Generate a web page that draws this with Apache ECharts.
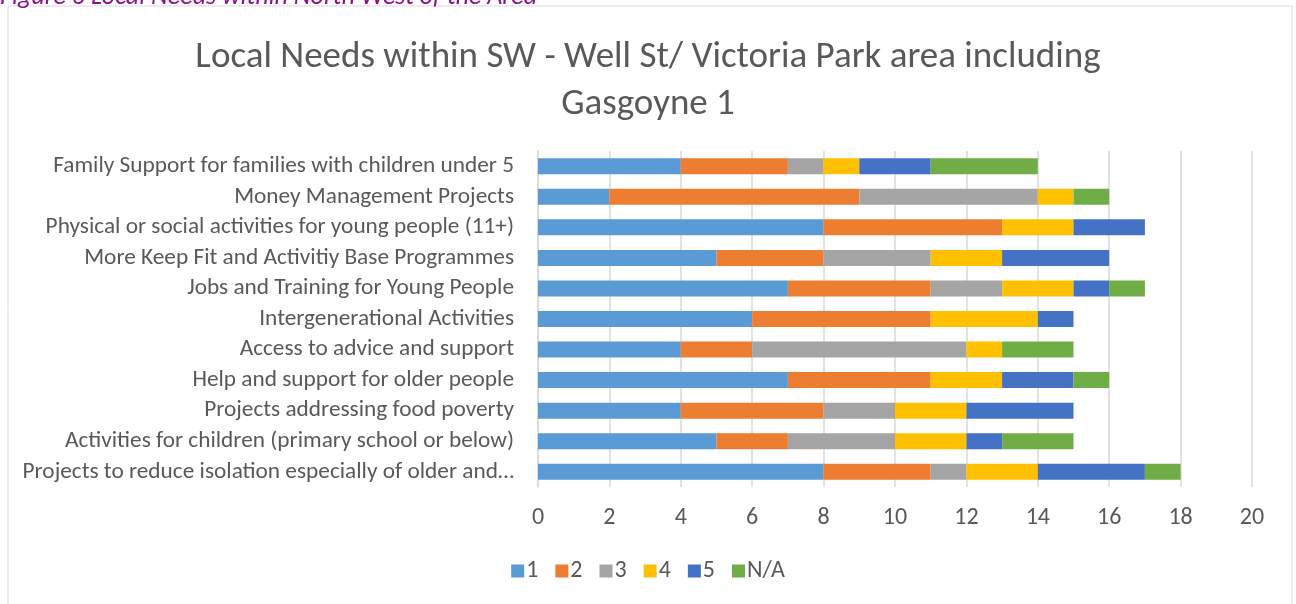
<!DOCTYPE html>
<html>
<head>
<meta charset="utf-8">
<script src="https://cdn.jsdelivr.net/npm/echarts@6/dist/echarts.min.js"></script>
<style>
  html, body { margin: 0; padding: 0; background: #fff; }
  #chart { width: 1296px; height: 604px; }
</style>
</head>
<body>
<div id="chart"></div>
<script>
// 类别（从上到下）
const categories = [
  'Family Support for families with children under 5',
  'Money Management Projects',
  'Physical or social activities for young people (11+)',
  'More Keep Fit and Activitiy Base Programmes',
  'Jobs and Training for Young People',
  'Intergenerational Activities',
  'Access to advice and support',
  'Help and support for older people',
  'Projects addressing food poverty',
  'Activities for children (primary school or below)',
  'Projects to reduce isolation especially of older and…'
]

// 每个评分的数量
const seriesNames = ['1', '2', '3', '4', '5', 'N/A']
const score1 = [4, 2, 8, 5, 7, 6, 4, 7, 4, 5, 8]
const score2 = [3, 7, 5, 3, 4, 5, 2, 4, 4, 2, 3]
const score3 = [1, 5, 0, 3, 2, 0, 6, 0, 2, 3, 1]
const score4 = [1, 1, 2, 2, 2, 3, 1, 2, 2, 2, 2]
const score5 = [2, 0, 2, 3, 1, 1, 0, 2, 3, 1, 3]
const scoreNA = [3, 1, 0, 0, 1, 0, 2, 1, 0, 2, 1]
const colors = ['#5B9BD5', '#ED7D31', '#A5A5A5', '#FFC000', '#4472C4', '#70AD47']

const font = 'Carlito, Lato, "Open Sans", sans-serif'
const textColor = '#595959'

let myEcharts = echarts.init(document.getElementById('chart'))
const allData = [score1, score2, score3, score4, score5, scoreNA]

const options = {
  color: colors,
  textStyle: { fontFamily: font },
  title: {
    text: 'Local Needs within SW - Well St/ Victoria Park area including\nGasgoyne 1',
    left: 'center',
    top: 29,
    textStyle: {
      fontFamily: font,
      fontSize: 37,
      fontWeight: 'normal',
      color: textColor,
      lineHeight: 47
    }
  },
  graphic: [
    {
      type: 'rect',
      shape: { x: 8, y: 6, width: 1284, height: 620 },
      style: { fill: 'none', stroke: '#d9d9d9', lineWidth: 1 },
      silent: true
    },
    {
      // 图注（被裁掉一半）
      type: 'text',
      left: 0,
      top: -16,
      style: {
        text: 'Figure 6 Local Needs within North West of the Area',
        fontFamily: font,
        fontSize: 26,
        fontStyle: 'italic',
        fill: '#8E0E8E'
      }
    }
  ],
  legend: {
    data: seriesNames,
    bottom: 16,
    left: 'center',
    icon: 'rect',
    itemWidth: 13,
    itemHeight: 13,
    itemGap: 17,
    textStyle: { fontFamily: font, fontSize: 24, color: textColor, padding: [0, 0, 0, -3] }
  },
  grid: {
    left: 538,
    right: 44,
    top: 151,
    bottom: 117,
    containLabel: false
  },
  xAxis: {
    type: 'value',
    min: 0,
    max: 20,
    interval: 2,
    axisLine: { show: false },
    axisTick: { show: false },
    axisLabel: { fontFamily: font, fontSize: 24, color: textColor, margin: 19 },
    splitLine: { lineStyle: { color: '#d9d9d9', width: 1.5 } }
  },
  yAxis: {
    type: 'category',
    inverse: true,
    data: categories,
    axisLine: { show: true, lineStyle: { color: '#d9d9d9', width: 1.5 } },
    axisTick: { show: false },
    axisLabel: {
      interval: 0,
      hideOverlap: false,
      fontFamily: font,
      fontSize: 23.3,
      color: textColor,
      margin: 24
    }
  },
  series: seriesNames.map((name, i) => ({
    name: name,
    type: 'bar',
    stack: 'total',
    barWidth: 16,
    data: allData[i],
    emphasis: { focus: 'series' }
  }))
}
options && myEcharts.setOption(options)
</script>
</body>
</html>
